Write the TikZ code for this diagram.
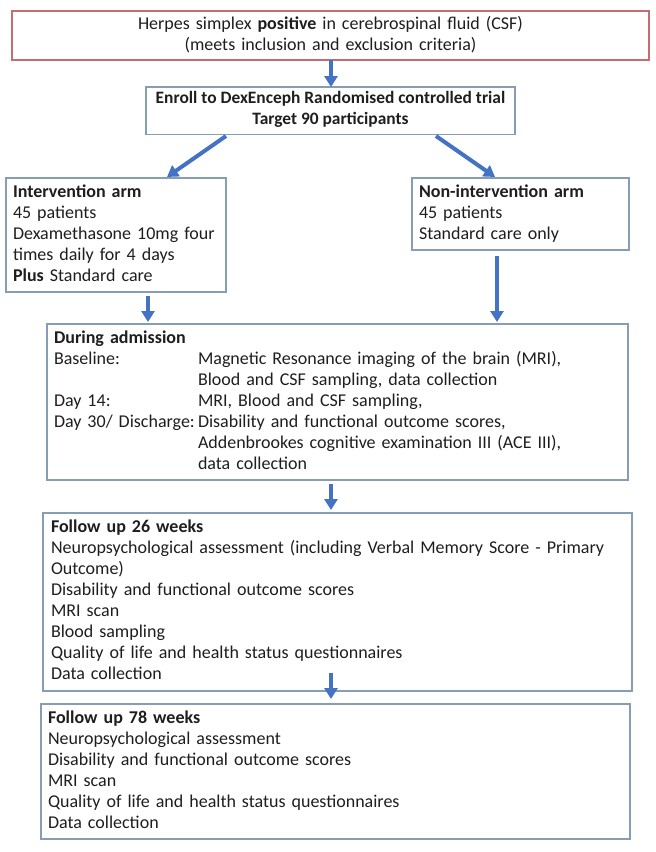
\documentclass[tikz,border=0pt]{standalone}
\usepackage{fontspec}
\setmainfont{Carlito}
\usetikzlibrary{arrows.meta,calc}
\definecolor{boxc}{RGB}{135,157,182}
\definecolor{redc}{RGB}{196,110,115}
\definecolor{arrc}{RGB}{68,114,196}
\definecolor{txtc}{RGB}{30,30,30}
\newcommand{\collab}[1]{\makebox[144pt][l]{#1}}
\begin{document}
\begin{tikzpicture}[x=1pt,y=-1pt,
  bx/.style={draw=boxc, line width=1.1pt, anchor=north west, inner xsep=7pt, inner ysep=4.5pt,
    outer sep=0pt, align=left, font=\fontsize{18}{21}\selectfont, text=txtc,
    execute at begin node=\strut, execute at end node=\strut},
  arr/.style={draw=arrc, line width=4pt, -{Triangle[width=13pt,length=11pt]}}]
\useasboundingbox (0,0) rectangle (656,852);

\node[bx, draw=redc, align=center, text width=623pt, inner ysep=3.5pt] (top) at (12,11)
  {Herpes simplex \textbf{positive} in cerebrospinal fluid (CSF)\\(meets inclusion and exclusion criteria)};

\node[bx, align=center, minimum width=369pt, inner xsep=2pt, inner ysep=4pt,
      font=\fontsize{17.4}{21}\selectfont] (enroll) at (146,87)
  {\textbf{Enroll to DexEnceph Randomised controlled trial}\\\textbf{Target 90 participants}};

\node[bx, text width=206pt] (interv) at (6,178)
  {\textbf{Intervention arm}\\45 patients\\Dexamethasone 10mg four\\times daily for 4 days\\\textbf{Plus} Standard care};

\node[bx, text width=203pt] (nonint) at (412,178)
  {\textbf{Non-intervention arm}\\45 patients\\Standard care only};

\node[bx, text width=567pt] (adm) at (47,324)
  {\textbf{During admission}\\
   \collab{Baseline:}Magnetic Resonance imaging of the brain (MRI),\\
   \collab{}Blood and CSF sampling, data collection\\
   \collab{Day 14:}MRI, Blood and CSF sampling,\\
   \collab{Day 30/ Discharge:}Disability and functional outcome scores,\\
   \collab{}Addenbrookes cognitive examination III (ACE III),\\
   \collab{}data collection};

\node[bx, text width=573pt, inner xsep=8pt, inner ysep=5pt] (f26) at (43,513)
  {\textbf{Follow up 26 weeks}\\
   Neuropsychological assessment (including Verbal Memory Score - Primary\\
   Outcome)\\
   Disability and functional outcome scores\\
   MRI scan\\
   Blood sampling\\
   Quality of life and health status questionnaires\\
   Data collection};

\node[bx, text width=575pt] (f78) at (41,704)
  {\textbf{Follow up 78 weeks}\\
   Neuropsychological assessment\\
   Disability and functional outcome scores\\
   MRI scan\\
   Quality of life and health status questionnaires\\
   Data collection};

\coordinate (cx) at (331,0);
\coordinate (lx) at (148,0);
\coordinate (rx) at (497,0);

\draw[arr] (top.south -| cx) -- (enroll.north -| cx);
\draw[arr] ($(enroll.south)+(-104.5,1.5)$) -- ($(interv.north)+(51,-1)$);
\draw[arr] ($(enroll.south)+(105.5,1.5)$) -- ($(nonint.north)+(-25.5,-1)$);
\draw[arr] ($(interv.south -| lx)+(0,4)$) -- ($(adm.north -| lx)+(0,-2)$);
\draw[arr] ($(nonint.south -| rx)+(0,6)$) -- ($(adm.north -| rx)+(0,-2)$);
\draw[arr] ($(adm.south -| cx)+(0,4)$) -- ($(f26.north -| cx)+(0,-3)$);
\draw[arr] ($(f26.south -| cx)+(0,-18)$) -- ($(f78.north -| cx)+(0,-5)$);
\end{tikzpicture}
\end{document}
